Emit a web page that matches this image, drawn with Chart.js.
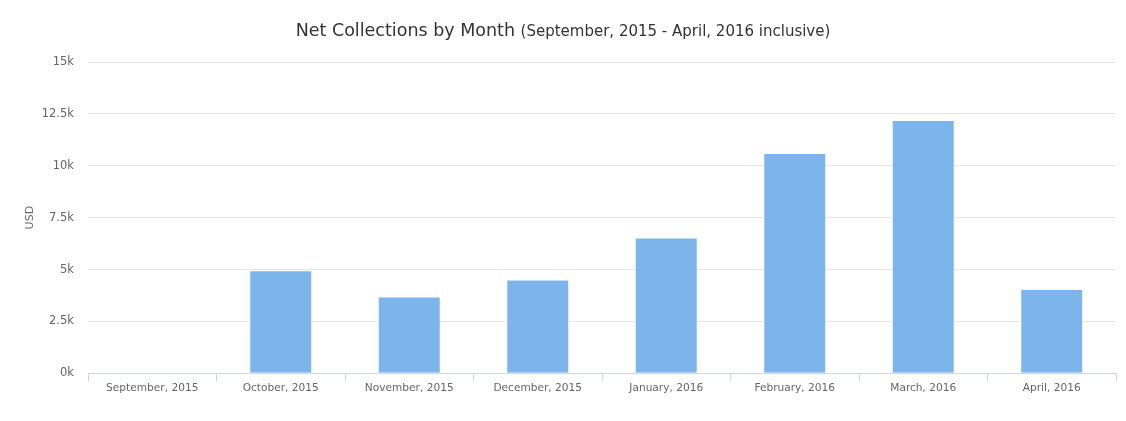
<!DOCTYPE html>
<html lang="en">
<head>
    <meta charset="UTF-8">
    <title>Net Collections by Month</title>
    <style>
        body { margin: 0; background: #fff; }
        #wrap { position: relative; width: 1126px; height: 421px; }
        #title {
            position: absolute; top: 20px; left: 0; width: 1126px;
            text-align: center; font-family: "DejaVu Sans", sans-serif;
            color: #333; font-size: 17.5px;
        }
        #title small { font-size: 15px; }
        canvas { position: absolute; top: 0; left: 0; }
    </style>
    <script src="https://cdn.jsdelivr.net/npm/chart.js"></script>
</head>
<body>
<div id="wrap">
    <canvas id="chart" width="1126" height="421"></canvas>
    <div id="title">Net Collections by Month <small>(September, 2015 - April, 2016 inclusive)</small></div>
</div>
<script>
    const months = ['September, 2015', 'October, 2015', 'November, 2015', 'December, 2015',
        'January, 2016', 'February, 2016', 'March, 2016', 'April, 2016'];
    const collections = [0, 4960, 3700, 4520, 6540, 10610, 12200, 4060];
    const yTicks = [0, 2500, 5000, 7500, 10000, 12500, 15000];

    const font = { family: 'DejaVu Sans', size: 10.6 };

    new Chart(document.getElementById('chart'), {
        type: 'bar',
        data: {
            labels: months,
            datasets: [{
                label: 'Net Collections',
                data: collections,
                backgroundColor: '#7cb5ec',
                borderColor: '#ffffff',
                borderWidth: 1,
                borderSkipped: 'start',
                categoryPercentage: 1,
                barPercentage: 0.49,
            }],
        },
        options: {
            responsive: false,
            animation: false,
            layout: { padding: { top: 62, right: 10, bottom: 25, left: 20 } },
            plugins: { legend: { display: false }, tooltip: { enabled: false } },
            scales: {
                x: {
                    offset: true,
                    grid: {
                        offset: true,
                        drawOnChartArea: false,
                        color: '#ccd6eb',
                        tickLength: 8,
                    },
                    border: { color: '#ccd6eb' },
                    ticks: { color: '#666', font: font, maxRotation: 0, padding: 1 },
                },
                y: {
                    min: 0,
                    max: 15000,
                    afterBuildTicks: (axis) => { axis.ticks = yTicks.map(v => ({ value: v })); },
                    afterFit: (axis) => { axis.width = 68; },
                    grid: { color: '#e6e6e6', drawTicks: false },
                    border: { display: false },
                    ticks: {
                        color: '#666', font: { family: 'DejaVu Sans', size: 11.5 }, padding: 14,
                        callback: (v) => (v / 1000) + 'k',
                    },
                    title: { display: true, text: 'USD', color: '#666', font: { family: 'DejaVu Sans', size: 11 }, padding: { top: 4, bottom: 5 } },
                },
            },
        },
    });
</script>
</body>
</html>
